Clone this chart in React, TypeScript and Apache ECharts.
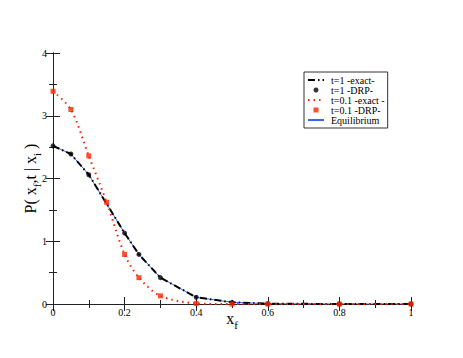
import React, { useEffect, useRef } from "react";
import * as echarts from "echarts";

const xT1 = [0, 0.05, 0.1, 0.2, 0.24, 0.3, 0.4, 0.5, 0.6, 0.8, 1.0];
const yT1 = [2.52, 2.39, 2.06, 1.13, 0.79, 0.42, 0.107, 0.027, 0.005, 0.0, 0.0];
const xT01 = [0, 0.05, 0.1, 0.15, 0.2, 0.24, 0.3, 0.4, 0.5, 0.6, 0.8, 1.0];
const yT01 = [3.39, 3.1, 2.36, 1.62, 0.79, 0.42, 0.13, 0.01, 0.0, 0.0, 0.0, 0.0];
const xEq = [0, 0.05, 0.1, 0.2, 0.24, 0.3, 0.4, 0.5, 0.6, 0.8, 1.0];
const yEq = [2.52, 2.39, 2.06, 1.13, 0.79, 0.42, 0.107, 0.027, 0.005, 0.0, 0.0];
const seriesNames = ["t=1 -exact-", "t=1 -DRP-", "t=0.1 -exact -", "t=0.1 -DRP-", "Equilibrium"];

const pairs = (xs: number[], ys: number[]) => xs.map((x, i) => [x, ys[i]]);

const FONT = "'Liberation Serif', 'Times New Roman', serif";

export default function App() {
  const ref = useRef<HTMLDivElement>(null);
  useEffect(() => {
    const chart = echarts.init(ref.current!, undefined, { renderer: "svg" });
    const tickCommon = {
      axisLine: { show: true, lineStyle: { color: "#222", width: 1 } },
      axisTick: { show: true, inside: true, length: 7, lineStyle: { color: "#222" } },
      minorTick: { show: true, splitNumber: 2, length: 4, lineStyle: { color: "#222" } },
      splitLine: { show: false },
    };
    const rich = {
      a: { fontFamily: FONT, fontSize: 16, color: "#000", lineHeight: 20, verticalAlign: "top" },
      s: { fontFamily: FONT, fontSize: 11, color: "#000", lineHeight: 20, verticalAlign: "bottom", padding: [9, 0, 0, 0] },
    };
    chart.setOption({
      animation: false,
      backgroundColor: "#fff",
      grid: { left: 53, right: 52, top: 53, bottom: 54 },
      xAxis: [
        {
          type: "value",
          min: 0,
          max: 1,
          interval: 0.2,
          ...tickCommon,
          axisLabel: { fontFamily: FONT, fontSize: 10, color: "#000", margin: 3 },
          name: "{a|x}{s|f}",
          nameLocation: "middle",
          nameGap: 6,
          nameMoveOverlap: false,
          nameTextStyle: { rich },
        },
        {
          type: "value",
          position: "top",
          min: 0,
          max: 1,
          interval: 0.2,
          ...tickCommon,
          axisLabel: { show: false },
        },
      ],
      yAxis: [
        {
          type: "value",
          min: 0,
          max: 4,
          interval: 1,
          ...tickCommon,
          axisLabel: { fontFamily: FONT, fontSize: 10, color: "#000", margin: 6 },
          name: "{a|P( x}{s|f}{a|,t | x}{s|i}{a| )}",
          nameLocation: "middle",
          nameRotate: 90,
          nameGap: 11,
          nameMoveOverlap: false,
          nameTextStyle: { rich },
        },
        {
          type: "value",
          position: "right",
          min: 0,
          max: 4,
          interval: 1,
          ...tickCommon,
          axisLabel: { show: false },
        },
      ],
      legend: {
        orient: "vertical",
        left: 304,
        top: 72,
        itemWidth: 16,
        itemHeight: 5,
        itemGap: 0,
        padding: [3, 3, 3, 3],
        borderColor: "#333",
        borderWidth: 1,
        backgroundColor: "#fff",
        data: [
          { name: seriesNames[0], itemStyle: { opacity: 0 } },
          { name: seriesNames[1] },
          { name: seriesNames[2], itemStyle: { opacity: 0 } },
          { name: seriesNames[3] },
          { name: seriesNames[4], itemStyle: { opacity: 0 } },
        ],
        textStyle: { fontFamily: FONT, fontSize: 10, color: "#000", lineHeight: 10, padding: [0, 0, 0, 2] },
      },
      series: [
        {
          name: seriesNames[4],
          type: "line",
          data: pairs(xEq, yEq),
          showSymbol: false,
          symbol: "none",
          lineStyle: { color: "#3366ff", width: 1 },
          itemStyle: { color: "#3366ff" },
          z: 1,
        },
        {
          name: seriesNames[0],
          type: "line",
          data: pairs(xT1, yT1),
          symbol: "none",
          lineStyle: { color: "#000", width: 2, type: [7, 3, 1.5, 3] },
          itemStyle: { color: "#000" },
          z: 2,
        },
        {
          name: seriesNames[1],
          type: "scatter",
          data: pairs(xT1, yT1),
          symbol: "circle",
          symbolSize: 5,
          symbolKeepAspect: true,
          itemStyle: { color: "#000" },
          z: 4,
        },
        {
          name: seriesNames[2],
          type: "line",
          data: pairs(xT01, yT01),
          symbol: "none",
          smooth: 0.3,
          lineStyle: { color: "#ff2200", width: 2, type: [1.5, 4] },
          itemStyle: { color: "#ff2200" },
          z: 3,
        },
        {
          name: seriesNames[3],
          type: "scatter",
          data: pairs(xT01, yT01),
          symbol: "path://M0,0H10V10H0Z",
          symbolSize: 5,
          symbolKeepAspect: true,
          itemStyle: { color: "#ff2200" },
          z: 5,
        },
      ],
    });
    return () => chart.dispose();
  }, []);
  return <div ref={ref} style={{ width: 463, height: 358, position: "absolute", left: 0, top: 0 }} />;
}
